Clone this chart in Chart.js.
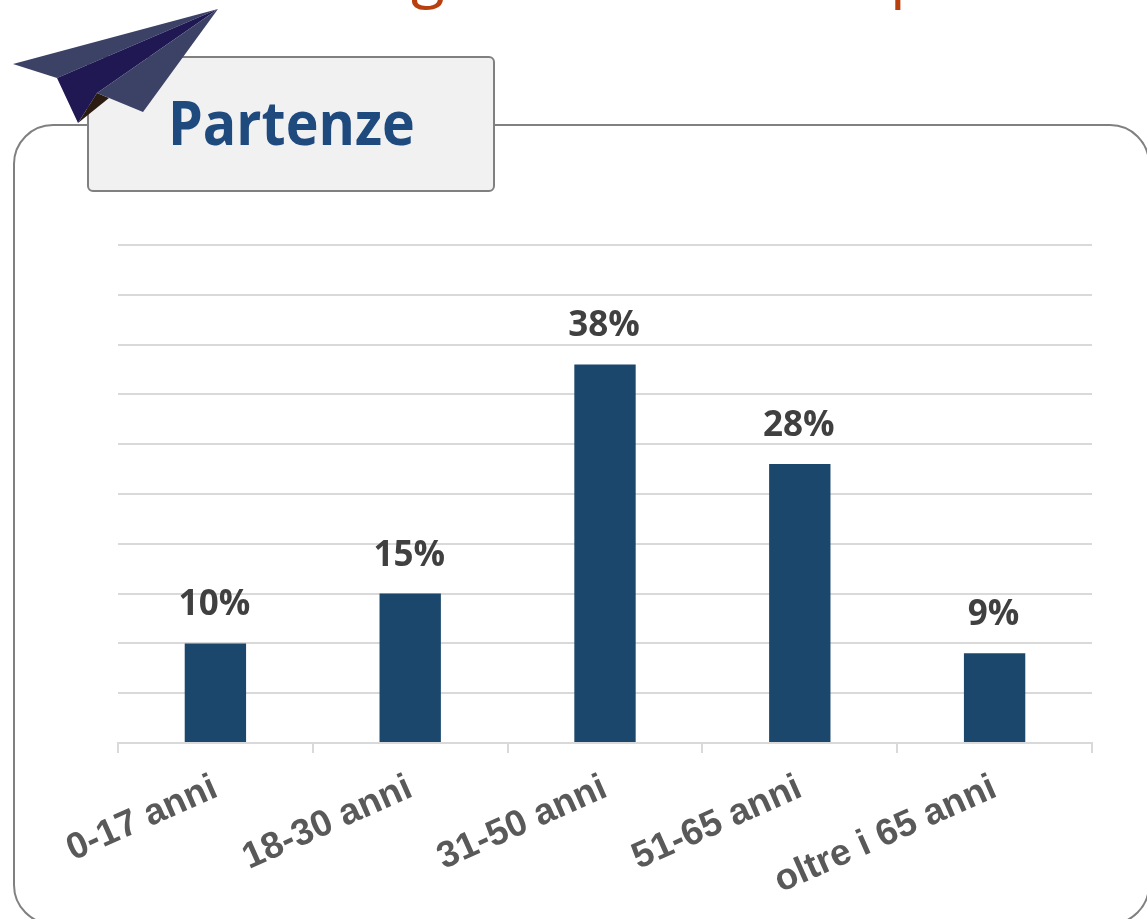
<!DOCTYPE html>
<html>
<head>
<meta charset="utf-8">
<title>Partenze</title>
<script src="https://cdn.jsdelivr.net/npm/chart.js@4"></script>
<style>
  html, body { margin: 0; padding: 0; background: #fff; }
  #page { position: relative; width: 1147px; height: 919px; overflow: hidden; }
  #frame { position: absolute; left: 13px; top: 124px; width: 1137px; height: 801px; box-sizing: border-box;
           border: 2px solid #808080; border-radius: 40px; }
  #chartWrap { position: absolute; left: 0; top: 0; width: 1147px; height: 919px; }
  #titleBox { position: absolute; left: 87px; top: 56px; width: 408px; height: 136px; box-sizing: border-box;
              background: #f1f1f1; border: 2px solid #808080; border-radius: 6px; }
  #titleText { position: absolute; left: 168px; top: 81px; line-height: 84px; font: bold 60px "Open Sans", sans-serif;
               color: #1f4a7e; transform-origin: 0 0; transform: scaleX(0.925); white-space: nowrap; }
  .cut { position: absolute; font: 62px "Open Sans", sans-serif; color: #b8400f; line-height: 70px; }
  #plane { position: absolute; left: 0; top: 0; }
</style>
</head>
<body>
<div id="page">
  <span class="cut" style="left:411px;top:-64px">g</span>
  <span class="cut" style="left:890px;top:-64px">p</span>
  <div id="frame"></div>
  <div id="chartWrap"><canvas id="ageChart" width="1147" height="919"></canvas></div>
  <div id="titleBox"></div>
  <div id="titleText">Partenze</div>
  <svg id="plane" width="230" height="130">
    <polygon points="13,64 218,9 57,78" fill="#3c4166"/>
    <polygon points="97,93 109,98 78,123" fill="#2a1c10"/>
    <polygon points="57,78 218,9 97,93 78,123" fill="#1f1852"/>
    <polygon points="218,9 97,93 143,112" fill="#3c4166"/>
  </svg>
</div>
<script>
const categories = ["0-17 anni", "18-30 anni", "31-50 anni", "51-65 anni", "oltre i 65 anni"];
const percentages = [10, 15, 38, 28, 9];
const axisMax = 50;
const axisStep = 5;

// prints the value above each bar
const barLabels = {
  id: "barLabels",
  afterDatasetsDraw(chart) {
    const ctx = chart.ctx;
    const meta = chart.getDatasetMeta(0);
    ctx.save();
    ctx.font = 'bold 35px "Open Sans", sans-serif';
    ctx.fillStyle = "#404040";
    ctx.textAlign = "center";
    ctx.textBaseline = "middle";
    meta.data.forEach((bar, i) => {
      ctx.fillText(percentages[i] + "%", bar.x - 1, bar.y - 38);
    });
    ctx.restore();
  },
};

new Chart(document.getElementById("ageChart"), {
  type: "bar",
  data: {
    labels: categories,
    datasets: [
      {
        data: percentages,
        backgroundColor: "#1c476c",
        barPercentage: 0.315,
        categoryPercentage: 1,
      },
    ],
  },
  options: {
    responsive: false,
    animation: false,
    devicePixelRatio: 1,
    layout: { padding: { left: 118, right: 55, top: 245, bottom: 0 } },
    plugins: { legend: { display: false }, tooltip: { enabled: false } },
    scales: {
      x: {
        afterFit(scale) {
          scale.height = 176;
          scale.paddingLeft = 0;
          scale.paddingRight = 0;
        },
        grid: { drawOnChartArea: false, color: "#d9d9d9", lineWidth: 2, tickLength: 10 },
        border: { color: "#d9d9d9", width: 2 },
        ticks: {
          autoSkip: false,
          minRotation: 24,
          maxRotation: 24,
          color: "#595959",
          font: { family: '"Liberation Sans"', size: 37, weight: "bold" },
          padding: 13,
        },
      },
      y: {
        min: 0,
        max: axisMax,
        afterFit(scale) {
          scale.width = 0;
        },
        grid: { color: "#d9d9d9", lineWidth: 2, drawTicks: false },
        border: { display: false },
        ticks: { display: false, stepSize: axisStep },
      },
    },
  },
  plugins: [barLabels],
});
</script>
</body>
</html>
